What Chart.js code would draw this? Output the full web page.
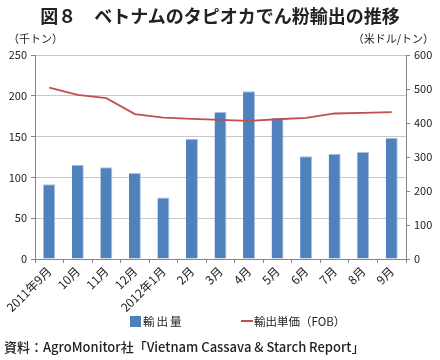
<!DOCTYPE html>
<html><head><meta charset="utf-8">
<script src="https://cdn.jsdelivr.net/npm/chart.js@4"></script>
<style>
html,body{margin:0;padding:0;background:#fff;}
body{width:440px;height:360px;position:relative;overflow:hidden;font-family:"Noto Sans CJK JP",sans-serif;color:#222;}
#c{position:absolute;left:0;top:0;}
.t{position:absolute;white-space:nowrap;}
#title{left:0;width:440px;text-align:center;top:2px;font-size:18px;font-weight:bold;}
#ul{left:8px;top:30px;font-size:11px;}
#ur{right:6px;top:30px;font-size:11px;}
#src{left:4px;top:337px;font-size:13px;font-weight:500;}
.lg{position:absolute;top:313px;font-size:11.5px;}
.box{display:inline-block;width:11px;height:11px;background:#4F81BD;vertical-align:-1px;margin-right:2px;}
.ln{display:inline-block;width:12px;height:2px;background:#C0504D;vertical-align:4px;margin-right:1px;}
</style></head>
<body>
<canvas id="c" width="440" height="360"></canvas>
<div class="t" id="title">図８　ベトナムのタピオカでん粉輸出の推移</div>
<div class="t" id="ul">（千トン）</div>
<div class="t" id="ur">（米ドル/トン）</div>
<div class="lg" style="left:130px;letter-spacing:2px"><span class="box"></span>輸出量</div>
<div class="lg" style="left:241px"><span class="ln"></span>輸出単価（FOB）</div>
<div class="t" id="src">資料：AgroMonitor社「Vietnam Cassava &amp; Starch Report」</div>
<script>
const categories = ["2011年9月","10月","11月","12月","2012年1月","2月","3月","4月","5月","6月","7月","8月","9月"];
const volume = [91.5, 115.5, 112.5, 105.5, 75.5, 147.5, 180, 205.5, 173, 126, 129, 131, 148.5];
const price = [504, 483, 473, 426, 416, 412, 409, 406, 411, 415, 428, 430, 432];
const leftTicks = [0, 50, 100, 150, 200, 250];
const rightTicks = [0, 100, 200, 300, 400, 500, 600];

const FONT = "'Noto Sans CJK JP', sans-serif";
new Chart(document.getElementById('c'), {
  data: {
    labels: categories,
    datasets: [
      {type:'line', label:'輸出単価（FOB）', data: price, yAxisID:'y2', borderColor:'#C0504D', borderWidth:1.8, pointRadius:0, tension:0, order:0},
      {type:'bar', label:'輸出量', data: volume, yAxisID:'y', backgroundColor:'#4F81BD', borderColor:'#A9C0DE', borderWidth:{top:1,right:1,left:0,bottom:0}, barPercentage:0.42, categoryPercentage:1.0, order:1}
    ]
  },
  options: {
    responsive:false, animation:false,
    layout:{padding:{left:0,right:0,top:55,bottom:41}},
    plugins:{legend:{display:false}, tooltip:{enabled:false}},
    scales:{
      x:{
        grid:{drawOnChartArea:false, drawTicks:true, tickLength:4, color:'#868686', offset:true},
        border:{color:'#868686'},
        ticks:{font:{family:FONT,size:12}, color:'#222', maxRotation:45, minRotation:45, autoSkip:false, padding:1},
        afterFit:(s)=>{s.height=60;}
      },
      y:{
        position:'left', min:0, max:250,
        afterBuildTicks:(s)=>{s.ticks = leftTicks.map(v=>({value:v}));},
        grid:{color:'#C8C8C8', tickLength:4, tickColor:'#868686'},
        border:{color:'#868686'},
        ticks:{font:{family:FONT,size:11}, color:'#222', padding:4},
        afterFit:(s)=>{s.width=35;}
      },
      y2:{
        position:'right', min:0, max:600,
        afterBuildTicks:(s)=>{s.ticks = rightTicks.map(v=>({value:v}));},
        grid:{drawOnChartArea:false, tickLength:4, color:'#868686'},
        border:{color:'#868686'},
        ticks:{font:{family:FONT,size:11}, color:'#222', padding:4},
        afterFit:(s)=>{s.width=34;}
      }
    }
  }
});
</script>
</body></html>
